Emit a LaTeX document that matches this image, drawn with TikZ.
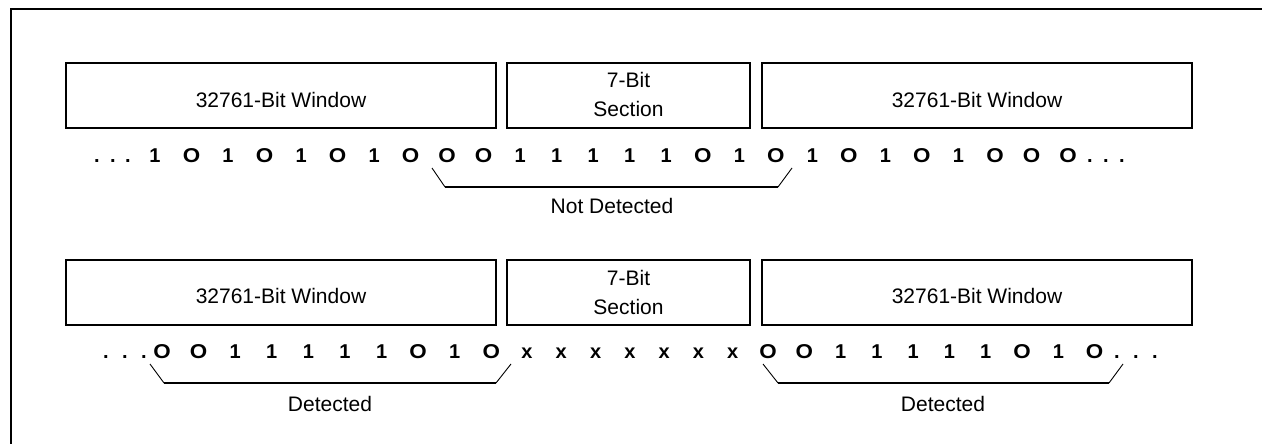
\documentclass[tikz,border=0pt]{standalone}
\usepackage{fontspec}
\setmainfont{Liberation Sans}
\newcommand\myO{\scalebox{1.12}[1]{O}}
\begin{document}
\begin{tikzpicture}[x=1pt,y=-1pt,
  box/.style={draw,line width=2pt,inner sep=0pt,minimum height=65pt},
  lbl/.style={anchor=base,inner sep=0pt,font=\fontsize{21}{25}\selectfont},
  bit/.style={anchor=base,inner sep=0pt,font=\fontsize{20}{24}\selectfont\bfseries},
  dotc/.style={anchor=base,inner sep=0pt,font=\fontsize{20}{24}\selectfont\bfseries},
  brh/.style={line width=1.6pt},
  brd/.style={line width=0.9pt}]
\useasboundingbox (0,0) rectangle (1262,444);
% frame
\draw[line width=2pt] (11,444) -- (11,9) -- (1262,9);

% ---------- row 1 ----------
\node[box,minimum width=430pt] (w1l) at (281,95.5) {};
\node[box,minimum width=243pt] (s1) at (628.5,95.5) {};
\node[box,minimum width=430pt] (w1r) at (977,95.5) {};
\node[lbl] (w1lt) at (281,107) {32761-Bit Window};
\node[lbl] (s1a) at (628.5,88) {7-Bit};
\node[lbl] (s1b) at (628.5,117) {Section};
\node[lbl] (w1rt) at (977,107) {32761-Bit Window};

\foreach \xx [count=\i] in {97,113,128,1090,1106,1122}
  \node[dotc] (r1d\i) at (\xx,162) {.};
\foreach \c [count=\i from 0] in {1,\myO,1,\myO,1,\myO,1,\myO,\myO,\myO,1,1,1,1,1,\myO,1,\myO,1,\myO,1,\myO,1,\myO,\myO,\myO}
  \node[bit] (r1b\i) at ({155+36.52*\i},162) {\c};

\coordinate (b1a) at (432,168);
\coordinate (b1b) at (445,187);
\coordinate (b1c) at (778,187);
\coordinate (b1d) at (792,168);
\draw[brd] (b1a) -- (b1b);
\draw[brh] (b1b) -- (b1c);
\draw[brd] (b1c) -- (b1d);
\node[lbl] (nd) at (612,213) {Not Detected};

% ---------- row 2 ----------
\node[box,minimum width=430pt] (w2l) at (281,292.5) {};
\node[box,minimum width=243pt] (s2) at (628.5,292.5) {};
\node[box,minimum width=430pt] (w2r) at (977,292.5) {};
\node[lbl] (w2lt) at (281,303) {32761-Bit Window};
\node[lbl] (s2a) at (628.5,285) {7-Bit};
\node[lbl] (s2b) at (628.5,314) {Section};
\node[lbl] (w2rt) at (977,303) {32761-Bit Window};

\foreach \xx [count=\i] in {106,125,144,1117,1136,1155}
  \node[dotc] (r2d\i) at (\xx,358) {.};
\foreach \c [count=\i from 0] in {\myO,\myO,1,1,1,1,1,\myO,1,\myO}
  \node[bit] (r2a\i) at ({162+36.6*\i},358) {\c};
\foreach \i in {0,...,6}
  \node[bit] (r2x\i) at ({527+34.3*\i},358) {x};
\foreach \c [count=\i from 0] in {\myO,\myO,1,1,1,1,1,\myO,1,\myO}
  \node[bit] (r2c\i) at ({768+36.3*\i},358) {\c};

\coordinate (b2a) at (150,364);
\coordinate (b2b) at (164,383);
\coordinate (b2c) at (496,383);
\coordinate (b2d) at (511,364);
\draw[brd] (b2a) -- (b2b);
\draw[brh] (b2b) -- (b2c);
\draw[brd] (b2c) -- (b2d);
\node[lbl] (det1) at (330,411) {Detected};

\coordinate (b3a) at (763,364);
\coordinate (b3b) at (778,383);
\coordinate (b3c) at (1109,383);
\coordinate (b3d) at (1123,364);
\draw[brd] (b3a) -- (b3b);
\draw[brh] (b3b) -- (b3c);
\draw[brd] (b3c) -- (b3d);
\node[lbl] (det2) at (943,411) {Detected};
\end{tikzpicture}
\end{document}
